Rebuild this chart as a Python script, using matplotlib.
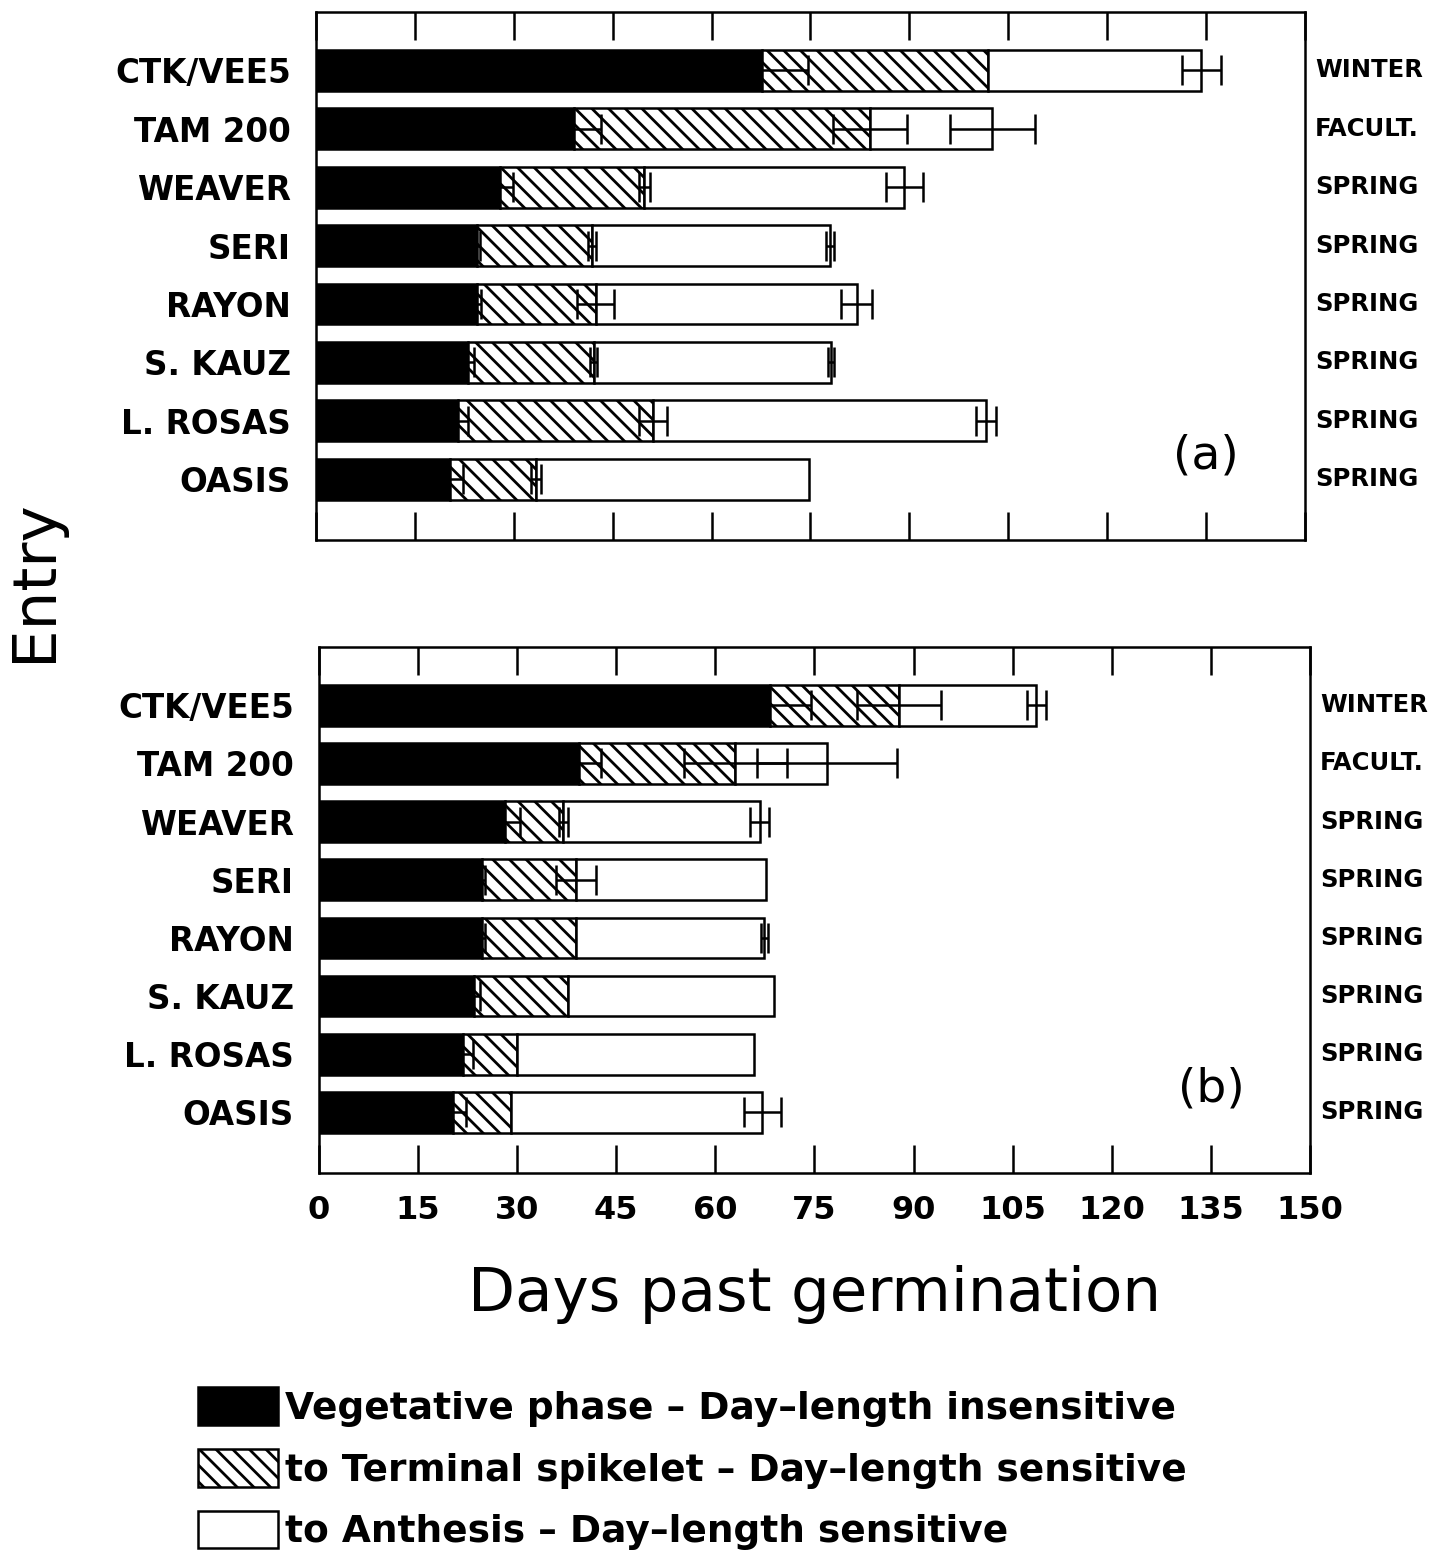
import numpy as np
import matplotlib
matplotlib.use("Agg")
import matplotlib.pyplot as plt
from matplotlib.patches import Patch

plt.rcParams['font.family'] = ['DejaVu Sans']
plt.rcParams['hatch.linewidth'] = 2.0

entries = ["CTK/VEE5", "TAM 200", "WEAVER", "SERI", "RAYON", "S. KAUZ", "L. ROSAS", "OASIS"]
habit = ["WINTER", "FACULT.", "SPRING", "SPRING", "SPRING", "SPRING", "SPRING", "SPRING"]

# days from germination at the end of each phase (a)
veg_a = [67.7, 39.2, 27.9, 24.4, 24.5, 23.0, 21.5, 20.3]
term_a = [101.9, 84.0, 49.8, 41.8, 42.4, 42.1, 51.1, 33.4]
anth_a = [134.3, 102.6, 89.2, 77.9, 82.0, 78.1, 101.6, 74.8]
veg_err_a = [7.0, 4.0, 2.0, 0.5, 0.5, 1.0, 1.5, 2.0]
term_err_a = [0, 5.6, 0.8, 0.6, 2.8, 0.6, 2.1, 0.8]
anth_err_a = [2.9, 6.5, 2.8, 0.6, 2.3, 0.5, 1.5, 0]

# (b)
veg_b = [68.2, 39.3, 28.2, 24.7, 24.7, 23.4, 21.8, 20.3]
term_b = [87.8, 63.0, 37.0, 38.9, 38.9, 37.7, 30.0, 29.0]
anth_b = [108.6, 76.9, 66.7, 67.7, 67.4, 68.8, 65.9, 67.1]
veg_err_b = [6.3, 3.4, 2.2, 0.5, 0.5, 1.0, 1.5, 2.0]
term_err_b = [6.4, 7.8, 0.7, 3.0, 0, 0, 0, 0]
anth_err_b = [1.4, 10.6, 1.4, 0, 0.5, 0, 0, 2.8]

xticks = [0, 15, 30, 45, 60, 75, 90, 105, 120, 135, 150]

LW = 1.8


def panel(ax, veg, term, anth, errs, tag, show_x):
    veg = np.array(veg)
    term = np.array(term)
    anth = np.array(anth)
    y = np.arange(len(entries))
    h = 0.7
    ax.barh(y, veg, height=h, color='black', edgecolor='black', linewidth=LW)
    ax.barh(y, term - veg, left=veg, height=h, color='white', edgecolor='black',
            hatch='\\\\', linewidth=LW)
    ax.barh(y, anth - term, left=term, height=h, color='white', edgecolor='black',
            linewidth=LW)
    for ends, err in zip((veg, term, anth), errs):
        err = np.array(err)
        m = err > 0
        ax.errorbar(ends[m], y[m], xerr=err[m], fmt='none', ecolor='black',
                    elinewidth=LW, capsize=11, capthick=LW, zorder=5)

    ax.set_xlim(0, 150)
    ax.set_ylim(len(entries) + 0.04, -1)
    ax.set_xticks(xticks)
    ax.set_yticks(y, entries, fontsize=23.5, fontweight='bold')
    ax.tick_params(axis='y', length=0, pad=18)
    ax.tick_params(axis='x', direction='in', length=20, width=LW, top=True,
                   bottom=True, labelbottom=show_x, pad=16)
    for lab in ax.get_xticklabels():
        lab.set_fontsize(23)
        lab.set_fontweight('bold')
    for s in ax.spines.values():
        s.set_linewidth(LW)

    for yi, txt in zip(y, habit):
        ax.text(1.01, yi, txt, transform=ax.get_yaxis_transform(), ha='left',
                va='center', fontsize=17.5, fontweight='bold')
    ax.text(135, 6.6, tag, ha='center', va='center', fontsize=34)


fig = plt.figure(figsize=(14.44, 15.52), dpi=100)
ax_a = fig.add_axes([0.2188, 0.6521, 0.6849, 0.3402])
ax_b = fig.add_axes([0.2209, 0.2442, 0.6863, 0.3389])

panel(ax_a, veg_a, term_a, anth_a, (veg_err_a, term_err_a, anth_err_a), "(a)", False)
panel(ax_b, veg_b, term_b, anth_b, (veg_err_b, term_err_b, anth_err_b), "(b)", True)

fig.text(0.024, 0.626, "Entry", rotation=90, ha='center', va='center', fontsize=44)
fig.text(0.5644, 0.1656, "Days past germination", ha='center', va='center', fontsize=44)

handles = [
    Patch(facecolor='black', edgecolor='black', linewidth=LW),
    Patch(facecolor='white', edgecolor='black', hatch='\\\\', linewidth=LW),
    Patch(facecolor='white', edgecolor='black', linewidth=LW),
]
labels = [
    "Vegetative phase \u2013 Day\u2013length insensitive",
    "to Terminal spikelet \u2013 Day\u2013length sensitive",
    "to Anthesis \u2013 Day\u2013length sensitive",
]
fig.legend(handles, labels, loc='upper left', bbox_to_anchor=(0.137, 0.106),
           frameon=False, borderpad=0, borderaxespad=0, handlelength=2.13,
           handleheight=1.15, handletextpad=0.19, labelspacing=0.6,
           prop={'size': 27, 'weight': 'bold'})

fig.savefig("out.png", dpi=100)
